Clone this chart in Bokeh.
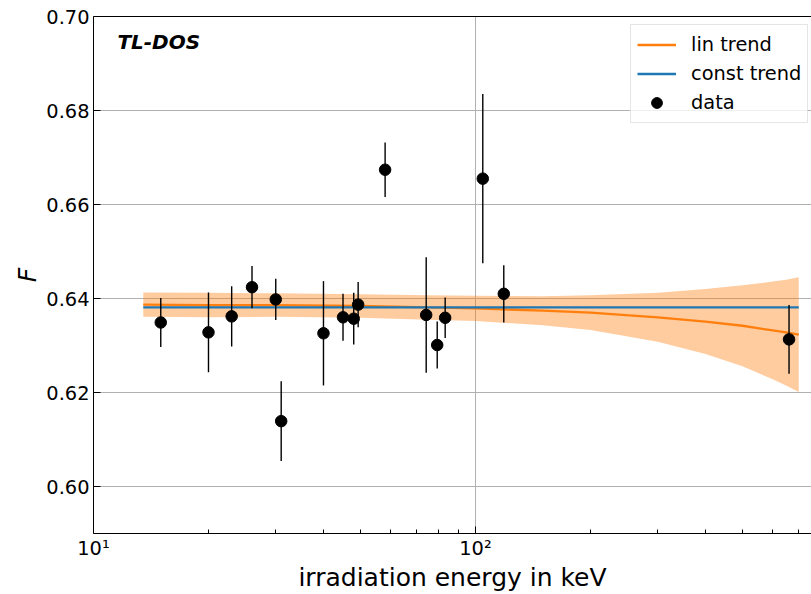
import numpy as np
from bokeh.plotting import figure
from bokeh.models import (Range1d, FixedTicker, NumeralTickFormatter, Legend, LegendItem,
                          Label, LogAxis, ColumnDataSource)
from bokeh.embed import file_html
from bokeh.resources import INLINE

# ---- data ----
energy = [15, 20, 23, 26, 30, 31, 40, 45, 48, 49.3, 58, 74.3, 79.4, 83.3, 104.5, 118.6, 662]
F_val = [0.6349, 0.6328, 0.6362, 0.6424, 0.6398, 0.6139, 0.6326, 0.6360, 0.6357, 0.6387,
         0.6674, 0.6365, 0.6301, 0.6359, 0.6655, 0.6410, 0.6313]
F_err = [0.0052, 0.0085, 0.0064, 0.0045, 0.0044, 0.0085, 0.0111, 0.0050, 0.0055, 0.0048,
         0.0058, 0.0123, 0.0050, 0.0043, 0.0180, 0.0061, 0.0073]

trend_energy = [13.5, 20, 30, 50, 75, 100, 150, 200, 300, 400, 500, 600, 650, 702]
lin_trend = [0.6387, 0.6386, 0.6386, 0.6384, 0.6381, 0.6379, 0.6374, 0.6370, 0.6360,
             0.6351, 0.6342, 0.6332, 0.6328, 0.6323]
lin_lower = [0.6361, 0.6360, 0.6361, 0.6359, 0.6355, 0.6352, 0.6343, 0.6333, 0.6308,
             0.6282, 0.6256, 0.6228, 0.6215, 0.6201]
lin_upper = [0.6413, 0.6412, 0.6411, 0.6409, 0.6407, 0.6406, 0.6405, 0.6407, 0.6412,
             0.6420, 0.6428, 0.6436, 0.6440, 0.6445]

const_energy = [13.5, 702]
const_trend = [0.6381, 0.6381]

x_ticks = [10, 100]
x_tick_labels = {10: "10\u00b9", 100: "10\u00b2"}
x_minor = [20, 30, 40, 50, 60, 70, 80, 90, 200, 300, 400, 500, 600, 700]
y_ticks = [0.60, 0.62, 0.64, 0.66, 0.68, 0.70]

FONT = "DejaVu Sans"

p = figure(width=811, height=594, x_axis_type="log",
           x_range=Range1d(10, 758), y_range=Range1d(0.59, 0.70),
           output_backend="svg", toolbar_location=None,
           min_border_left=93, min_border_right=0, min_border_top=16, min_border_bottom=61)

p.outline_line_color = None
p.background_fill_color = "white"

# band + trends
band_src = ColumnDataSource(dict(x=trend_energy, lo=lin_lower, hi=lin_upper, y=lin_trend))
p.varea(x="x", y1="lo", y2="hi", source=band_src, fill_color="#ff7f0e", fill_alpha=0.4)
lin_r = p.line(x="x", y="y", source=band_src, line_color="#ff7f0e", line_width=2.3)
const_r = p.line(const_energy, const_trend, line_color="#1f77b4", line_width=2.3)

# data with error bars
lo = [v - e for v, e in zip(F_val, F_err)]
hi = [v + e for v, e in zip(F_val, F_err)]
p.segment(x0=energy, y0=lo, x1=energy, y1=hi, line_color="black", line_width=1.4)
data_r = p.scatter(energy, F_val, size=11.5, fill_color="black", line_color="black")

# axes
xa = p.xaxis[0]
xa.ticker = FixedTicker(ticks=x_ticks, minor_ticks=x_minor)
xa.major_label_overrides = x_tick_labels
xa.axis_label = "irradiation energy in keV"
ya = p.yaxis[0]
ya.ticker = FixedTicker(ticks=y_ticks)
ya.formatter = NumeralTickFormatter(format="0.00")
ya.axis_label = "F"

for ax in (xa, ya):
    ax.axis_line_color = "black"
    ax.axis_line_width = 1
    ax.major_tick_in = 7
    ax.major_tick_out = 0
    ax.minor_tick_in = 4
    ax.minor_tick_out = 0
    ax.major_tick_line_color = "black"
    ax.minor_tick_line_color = "black"
    ax.major_label_text_font = FONT
    ax.major_label_text_font_size = "19.4px"
    ax.major_label_text_color = "black"
    ax.major_label_text_line_height = 1.0
    ax.axis_label_text_font = FONT
    ax.axis_label_text_font_size = "25px"
    ax.axis_label_text_color = "black"
    ax.axis_label_text_line_height = 0.9
ya.minor_tick_line_color = None
xa.axis_label_text_font_style = "normal"
ya.axis_label_text_font_style = "italic"
xa.major_label_standoff = 3
xa.axis_label_standoff = 0
ya.major_label_standoff = 4
ya.axis_label_standoff = 1

# top border line
top_ax = LogAxis(ticker=FixedTicker(ticks=[]), axis_line_color="black", axis_line_width=1,
                 major_tick_line_color=None, minor_tick_line_color=None,
                 major_label_text_font_size="0px")
p.add_layout(top_ax, "above")

# grid
p.xgrid.grid_line_color = "#b0b0b0"
p.xgrid.grid_line_width = 1
p.ygrid.grid_line_color = "#b0b0b0"
p.ygrid.grid_line_width = 1
p.xgrid.ticker = FixedTicker(ticks=x_ticks)
p.ygrid.ticker = FixedTicker(ticks=y_ticks)

# annotation
p.add_layout(Label(x=11.55, y=0.6945, text="TL-DOS", text_font=FONT,
                   text_font_style="bold italic", text_font_size="20px",
                   text_baseline="middle", text_align="left", text_color="black"))

legend = Legend(items=[LegendItem(label="lin trend", renderers=[lin_r]),
                       LegendItem(label="const trend", renderers=[const_r]),
                       LegendItem(label="data", renderers=[data_r])],
                location=(537, 410))
legend.label_text_font = FONT
legend.label_text_font_size = "19.4px"
legend.label_text_color = "black"
legend.glyph_width = 39
legend.glyph_height = 27
legend.label_height = 27
legend.spacing = 2
legend.padding = 6
legend.label_standoff = 15
legend.border_line_color = "#cccccc"
legend.background_fill_alpha = 0.8
legend.margin = 0
p.add_layout(legend)

open("out.html", "w").write(file_html(p, INLINE))
